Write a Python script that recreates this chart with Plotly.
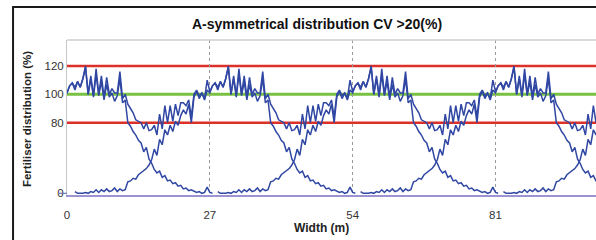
import plotly.graph_objects as go

# ---------------- data ----------------
# one spreader pass, sampled every 0.5 m relative to its tramline (m)
pass_pct = [
    2, 0, 0, 0, 1, 0, 2, 1, 4, 1, 4, 2, 5, 2, 3, 6, 2, 5, 3, 4,            # -25.5 .. -16.0
    13, 14, 17, 16, 21, 23, 26, 28, 32, 38, 50, 43, 61, 55, 72, 66, 77, 70, 81, 77,  # -15.5 .. -6.0
    85, 89, 86, 93, 80, 98, 102, 97, 101, 96, 103, 101, 106, 108, 103, 109, 105, 111, 119, 100,  # -5.5 .. 4.0
    111, 98, 114, 99, 109, 96, 107, 98, 101, 95, 99, 111, 94, 96, 80, 76, 70, 66, 60, 57,  # 4.5 .. 14.0
    47, 52, 39, 34, 27, 23, 25, 18, 20, 14, 15, 11, 12, 8, 9, 5, 6, 3, 4, 2,  # 14.5 .. 24.0
    1, 2, 0, 1, 7, 1, 0,                                                     # 24.5 .. 27.5
]
pass_offset_m = [-25.5 + 0.5 * i for i in range(len(pass_pct))]

tramlines_m = [0, 27, 54, 81, 108]      # pass positions (bout width 27 m)
x_ticks = [0, 27, 54, 81]
y_ticks = [0, 80, 100, 120]
limit_levels = [80, 120]                # red tolerance band
target_level = [100]                    # green target

# ---------------- the reference chart's (broken) y scale ----------------
# 80..120 % is drawn at full scale, 0..80 % is compressed
def y_axis(v):
    return v if v >= 80 else 30.2 + v * (80 - 30.2) / 80

# overlapped (summed) distribution across the field width
profile = dict(zip(pass_offset_m, pass_pct))
field_x = [i * 0.5 for i in range(0, 201)]
overlap_total = []
for x in field_x:
    s = 0.0
    for c in tramlines_m:
        s += profile.get(round(x - c, 1), 0.0)
    overlap_total.append(s)

BLUE = "#3047a3"
fig = go.Figure()

for lv in limit_levels:
    fig.add_hline(y=y_axis(lv), line=dict(color="#dc3128", width=2.5), layer="below")
for lv in target_level:
    fig.add_hline(y=y_axis(lv), line=dict(color="#79c143", width=3), layer="below")

for c in tramlines_m:
    fig.add_trace(go.Scatter(
        x=[c + o for o in pass_offset_m],
        y=[y_axis(v) for v in pass_pct],
        mode="lines", line=dict(color=BLUE, width=1.5), hoverinfo="skip",
        showlegend=False))

fig.add_trace(go.Scatter(
    x=field_x, y=[y_axis(v) for v in overlap_total],
    mode="lines", line=dict(color=BLUE, width=1.5), hoverinfo="skip",
    showlegend=False))

FONT = "Liberation Sans, Arial, sans-serif"
fig.update_layout(
    width=596, height=240,
    margin=dict(l=67, r=0, t=40, b=45),
    paper_bgcolor="white", plot_bgcolor="white",
    font=dict(family=FONT, size=11, color="#333"),
    showlegend=False,
    xaxis=dict(range=[0, 100], tickvals=x_ticks, ticktext=[str(t) for t in x_ticks],
               showgrid=True, gridcolor="#9a9a9a", griddash="3px,3px", gridwidth=1,
               showline=True, linecolor="#9d92d2", linewidth=1.5,
               ticks="outside", ticklen=8, tickcolor="rgba(0,0,0,0)",
               zeroline=False, tickfont=dict(size=11.5, color="#333")),
    yaxis=dict(range=[29.0, 138.3], tickvals=[y_axis(v) for v in y_ticks],
               ticktext=[str(v) for v in y_ticks],
               showgrid=False, showline=True, linecolor="#c8c8c8", linewidth=1,
               zeroline=False, tickfont=dict(size=11.5, color="#333")),
)

# frame and decorations
fig.add_shape(type="rect", xref="paper", yref="paper",
              x0=-0.102, x1=1.05, y0=-0.5, y1=1.213,
              line=dict(color="#1a1a1a", width=2), layer="below")
fig.add_shape(type="line", xref="paper", yref="paper", x0=0, x1=1, y0=1, y1=1,
              line=dict(color="#cfcfcf", width=1.5))
fig.add_shape(type="line", xref="paper", yref="y", x0=-0.017, x1=0,
              y0=y_axis(0), y1=y_axis(0), line=dict(color="#6a76b8", width=1.2))

fig.add_annotation(text="<b>A-symmetrical distribution CV &gt;20(%)</b>",
                   xref="paper", yref="paper", x=0.4726, y=1.10,
                   xanchor="center", yanchor="middle",
                   showarrow=False, font=dict(family=FONT, size=14, color="#111"))
fig.add_annotation(text="<b>Width (m)</b>", xref="paper", yref="paper",
                   x=0.481, y=-0.213, xanchor="center", yanchor="middle",
                   showarrow=False, font=dict(family=FONT, size=12, color="#222"))
fig.add_annotation(text="<b>Fertiliser distribution (%)</b>", xref="paper", yref="paper",
                   x=-0.0756, y=0.49, xanchor="center", yanchor="middle",
                   textangle=-90, showarrow=False,
                   font=dict(family=FONT, size=11.5, color="#222"))

fig.write_html("out.html", config={"displayModeBar": False},
               post_script="document.body.style.margin='0px';")
